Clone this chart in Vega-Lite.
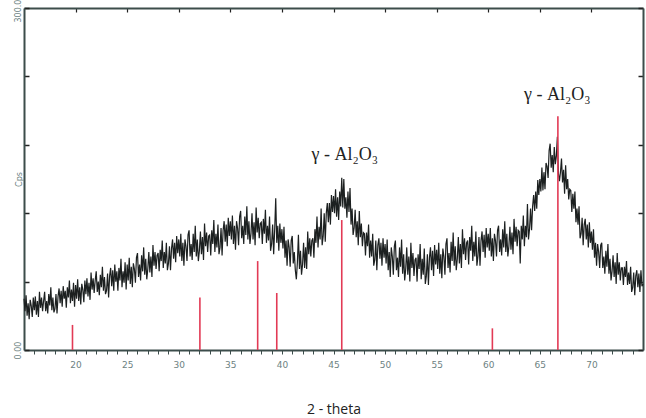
{
  "$schema": "https://vega.github.io/schema/vega-lite/v6.json",
  "width": 619,
  "height": 342,
  "autosize": "none",
  "padding": {"left": 24, "top": 8, "right": 3, "bottom": 68},
  "background": "white",
  "config": {"view": {"stroke": null}},
  "datasets": {
    "curve": [
{"t":15.0,"c":45},{"t":15.1,"c":34},{"t":15.2,"c":48},{"t":15.3,"c":30},{"t":15.4,"c":41},{"t":15.5,"c":27},{"t":15.6,"c":44},{"t":15.7,"c":39},{"t":15.8,"c":29},{"t":15.9,"c":46},
{"t":16.0,"c":35},{"t":16.1,"c":47},{"t":16.2,"c":31},{"t":16.3,"c":43},{"t":16.4,"c":29},{"t":16.5,"c":51},{"t":16.6,"c":37},{"t":16.7,"c":46},{"t":16.8,"c":34},{"t":16.9,"c":43},
{"t":17.0,"c":51},{"t":17.1,"c":34},{"t":17.2,"c":43},{"t":17.3,"c":32},{"t":17.4,"c":49},{"t":17.5,"c":39},{"t":17.6,"c":55},{"t":17.7,"c":35},{"t":17.8,"c":46},{"t":17.9,"c":33},
{"t":18.0,"c":36},{"t":18.1,"c":49},{"t":18.2,"c":32},{"t":18.3,"c":47},{"t":18.4,"c":54},{"t":18.5,"c":41},{"t":18.6,"c":52},{"t":18.7,"c":38},{"t":18.8,"c":56},{"t":18.9,"c":45},
{"t":19.0,"c":52},{"t":19.1,"c":37},{"t":19.2,"c":55},{"t":19.3,"c":46},{"t":19.4,"c":61},{"t":19.5,"c":41},{"t":19.6,"c":53},{"t":19.7,"c":43},{"t":19.8,"c":59},{"t":19.9,"c":38},
{"t":20.0,"c":57},{"t":20.1,"c":45},{"t":20.2,"c":62},{"t":20.3,"c":43},{"t":20.4,"c":55},{"t":20.5,"c":40},{"t":20.6,"c":58},{"t":20.7,"c":53},{"t":20.8,"c":42},{"t":20.9,"c":61},
{"t":21.0,"c":49},{"t":21.1,"c":63},{"t":21.2,"c":47},{"t":21.3,"c":59},{"t":21.4,"c":44},{"t":21.5,"c":68},{"t":21.6,"c":53},{"t":21.7,"c":63},{"t":21.8,"c":50},{"t":21.9,"c":61},
{"t":22.0,"c":69},{"t":22.1,"c":51},{"t":22.2,"c":60},{"t":22.3,"c":48},{"t":22.4,"c":66},{"t":22.5,"c":55},{"t":22.6,"c":73},{"t":22.7,"c":52},{"t":22.8,"c":64},{"t":22.9,"c":49},
{"t":23.0,"c":52},{"t":23.1,"c":67},{"t":23.2,"c":46},{"t":23.3,"c":65},{"t":23.4,"c":72},{"t":23.5,"c":56},{"t":23.6,"c":70},{"t":23.7,"c":52},{"t":23.8,"c":75},{"t":23.9,"c":60},
{"t":24.0,"c":69},{"t":24.1,"c":52},{"t":24.2,"c":72},{"t":24.3,"c":61},{"t":24.4,"c":80},{"t":24.5,"c":55},{"t":24.6,"c":69},{"t":24.7,"c":59},{"t":24.8,"c":77},{"t":24.9,"c":53},
{"t":25.0,"c":75},{"t":25.1,"c":61},{"t":25.2,"c":81},{"t":25.3,"c":58},{"t":25.4,"c":73},{"t":25.5,"c":55},{"t":25.6,"c":76},{"t":25.7,"c":71},{"t":25.8,"c":59},{"t":25.9,"c":81},
{"t":26.0,"c":85},{"t":26.1,"c":64},{"t":26.2,"c":75},{"t":26.3,"c":61},{"t":26.4,"c":83},{"t":26.5,"c":69},{"t":26.6,"c":90},{"t":26.7,"c":66},{"t":26.8,"c":80},{"t":26.9,"c":62},
{"t":27.0,"c":71},{"t":27.1,"c":86},{"t":27.2,"c":68},{"t":27.3,"c":82},{"t":27.4,"c":64},{"t":27.5,"c":92},{"t":27.6,"c":74},{"t":27.7,"c":86},{"t":27.8,"c":71},{"t":27.9,"c":83},
{"t":28.0,"c":85},{"t":28.1,"c":69},{"t":28.2,"c":88},{"t":28.3,"c":78},{"t":28.4,"c":96},{"t":28.5,"c":72},{"t":28.6,"c":86},{"t":28.7,"c":76},{"t":28.8,"c":94},{"t":28.9,"c":70},
{"t":29.0,"c":76},{"t":29.1,"c":91},{"t":29.2,"c":70},{"t":29.3,"c":89},{"t":29.4,"c":97},{"t":29.5,"c":80},{"t":29.6,"c":94},{"t":29.7,"c":77},{"t":29.8,"c":100},{"t":29.9,"c":85},
{"t":30.0,"c":97},{"t":30.1,"c":82},{"t":30.2,"c":102},{"t":30.3,"c":78},{"t":30.4,"c":94},{"t":30.5,"c":74},{"t":30.6,"c":97},{"t":30.7,"c":91},{"t":30.8,"c":78},{"t":30.9,"c":101},
{"t":31.0,"c":105},{"t":31.1,"c":82},{"t":31.2,"c":93},{"t":31.3,"c":79},{"t":31.4,"c":102},{"t":31.5,"c":86},{"t":31.6,"c":109},{"t":31.7,"c":82},{"t":31.8,"c":97},{"t":31.9,"c":78},
{"t":32.0,"c":87},{"t":32.1,"c":104},{"t":32.2,"c":84},{"t":32.3,"c":99},{"t":32.4,"c":79},{"t":32.5,"c":111},{"t":32.6,"c":91},{"t":32.7,"c":103},{"t":32.8,"c":86},{"t":32.9,"c":100},
{"t":33.0,"c":101},{"t":33.1,"c":83},{"t":33.2,"c":105},{"t":33.3,"c":93},{"t":33.4,"c":114},{"t":33.5,"c":86},{"t":33.6,"c":102},{"t":33.7,"c":90},{"t":33.8,"c":110},{"t":33.9,"c":84},
{"t":34.0,"c":90},{"t":34.1,"c":107},{"t":34.2,"c":83},{"t":34.3,"c":105},{"t":34.4,"c":113},{"t":34.5,"c":95},{"t":34.6,"c":110},{"t":34.7,"c":91},{"t":34.8,"c":116},{"t":34.9,"c":100},
{"t":35.0,"c":113},{"t":35.1,"c":97},{"t":35.2,"c":118},{"t":35.3,"c":93},{"t":35.4,"c":109},{"t":35.5,"c":88},{"t":35.6,"c":113},{"t":35.7,"c":107},{"t":35.8,"c":92},{"t":35.9,"c":117},
{"t":36.0,"c":122},{"t":36.1,"c":98},{"t":36.2,"c":109},{"t":36.3,"c":93},{"t":36.4,"c":117},{"t":36.5,"c":101},{"t":36.6,"c":126},{"t":36.7,"c":97},{"t":36.8,"c":113},{"t":36.9,"c":93},
{"t":37.0,"c":102},{"t":37.1,"c":120},{"t":37.2,"c":97},{"t":37.3,"c":112},{"t":37.4,"c":92},{"t":37.5,"c":125},{"t":37.6,"c":103},{"t":37.7,"c":116},{"t":37.8,"c":98},{"t":37.9,"c":111},
{"t":38.0,"c":112},{"t":38.1,"c":93},{"t":38.2,"c":115},{"t":38.3,"c":102},{"t":38.4,"c":123},{"t":38.5,"c":94},{"t":38.6,"c":109},{"t":38.7,"c":96},{"t":38.8,"c":117},{"t":38.9,"c":87},
{"t":39.0,"c":93},{"t":39.1,"c":110},{"t":39.2,"c":84},{"t":39.3,"c":106},{"t":39.4,"c":133},{"t":39.5,"c":94},{"t":39.6,"c":109},{"t":39.7,"c":87},{"t":39.8,"c":111},{"t":39.9,"c":94},
{"t":40.0,"c":106},{"t":40.1,"c":89},{"t":40.2,"c":108},{"t":40.3,"c":81},{"t":40.4,"c":96},{"t":40.5,"c":74},{"t":40.6,"c":97},{"t":40.7,"c":90},{"t":40.8,"c":73},{"t":40.9,"c":96},
{"t":41.0,"c":100},{"t":41.1,"c":76},{"t":41.2,"c":86},{"t":41.3,"c":70},{"t":41.4,"c":62},{"t":41.5,"c":77},{"t":41.6,"c":101},{"t":41.7,"c":71},{"t":41.8,"c":87},{"t":41.9,"c":66},
{"t":42.0,"c":75},{"t":42.1,"c":94},{"t":42.2,"c":72},{"t":42.3,"c":90},{"t":42.4,"c":71},{"t":42.5,"c":104},{"t":42.6,"c":84},{"t":42.7,"c":98},{"t":42.8,"c":82},{"t":42.9,"c":96},
{"t":43.0,"c":98},{"t":43.1,"c":81},{"t":43.2,"c":106},{"t":43.3,"c":94},{"t":43.4,"c":117},{"t":43.5,"c":90},{"t":43.6,"c":108},{"t":43.7,"c":97},{"t":43.8,"c":124},{"t":43.9,"c":92},
{"t":44.0,"c":100},{"t":44.1,"c":120},{"t":44.2,"c":95},{"t":44.3,"c":120},{"t":44.4,"c":129},{"t":44.5,"c":112},{"t":44.6,"c":129},{"t":44.7,"c":110},{"t":44.8,"c":136},{"t":44.9,"c":121},
{"t":45.0,"c":135},{"t":45.1,"c":120},{"t":45.2,"c":141},{"t":45.3,"c":117},{"t":45.4,"c":134},{"t":45.5,"c":114},{"t":45.6,"c":139},{"t":45.7,"c":126},{"t":45.8,"c":151},{"t":45.9,"c":125},
{"t":46.0,"c":150},{"t":46.1,"c":124},{"t":46.2,"c":134},{"t":46.3,"c":116},{"t":46.4,"c":139},{"t":46.5,"c":121},{"t":46.6,"c":142},{"t":46.7,"c":110},{"t":46.8,"c":124},{"t":46.9,"c":101},
{"t":47.0,"c":107},{"t":47.1,"c":123},{"t":47.2,"c":99},{"t":47.3,"c":113},{"t":47.4,"c":92},{"t":47.5,"c":122},{"t":47.6,"c":99},{"t":47.7,"c":111},{"t":47.8,"c":91},{"t":47.9,"c":103},
{"t":48.0,"c":102},{"t":48.1,"c":83},{"t":48.2,"c":103},{"t":48.3,"c":91},{"t":48.4,"c":110},{"t":48.5,"c":81},{"t":48.6,"c":96},{"t":48.7,"c":82},{"t":48.8,"c":102},{"t":48.9,"c":74},
{"t":49.0,"c":79},{"t":49.1,"c":96},{"t":49.2,"c":70},{"t":49.3,"c":92},{"t":49.4,"c":98},{"t":49.5,"c":80},{"t":49.6,"c":94},{"t":49.7,"c":74},{"t":49.8,"c":98},{"t":49.9,"c":81},
{"t":50.0,"c":93},{"t":50.1,"c":76},{"t":50.2,"c":97},{"t":50.3,"c":70},{"t":50.4,"c":86},{"t":50.5,"c":64},{"t":50.6,"c":90},{"t":50.7,"c":82},{"t":50.8,"c":66},{"t":50.9,"c":91},
{"t":51.0,"c":96},{"t":51.1,"c":70},{"t":51.2,"c":81},{"t":51.3,"c":64},{"t":51.4,"c":90},{"t":51.5,"c":73},{"t":51.6,"c":97},{"t":51.7,"c":67},{"t":51.8,"c":84},{"t":51.9,"c":61},
{"t":52.0,"c":71},{"t":52.1,"c":90},{"t":52.2,"c":66},{"t":52.3,"c":82},{"t":52.4,"c":60},{"t":52.5,"c":94},{"t":52.6,"c":72},{"t":52.7,"c":85},{"t":52.8,"c":65},{"t":52.9,"c":79},
{"t":53.0,"c":81},{"t":53.1,"c":60},{"t":53.2,"c":84},{"t":53.3,"c":71},{"t":53.4,"c":93},{"t":53.5,"c":62},{"t":53.6,"c":80},{"t":53.7,"c":66},{"t":53.8,"c":89},{"t":53.9,"c":58},
{"t":54.0,"c":65},{"t":54.1,"c":84},{"t":54.2,"c":57},{"t":54.3,"c":81},{"t":54.4,"c":90},{"t":54.5,"c":70},{"t":54.6,"c":87},{"t":54.7,"c":65},{"t":54.8,"c":92},{"t":54.9,"c":75},
{"t":55.0,"c":88},{"t":55.1,"c":71},{"t":55.2,"c":94},{"t":55.3,"c":67},{"t":55.4,"c":84},{"t":55.5,"c":63},{"t":55.6,"c":89},{"t":55.7,"c":82},{"t":55.8,"c":66},{"t":55.9,"c":93},
{"t":56.0,"c":98},{"t":56.1,"c":72},{"t":56.2,"c":85},{"t":56.3,"c":68},{"t":56.4,"c":95},{"t":56.5,"c":78},{"t":56.6,"c":103},{"t":56.7,"c":74},{"t":56.8,"c":91},{"t":56.9,"c":70},
{"t":57.0,"c":80},{"t":57.1,"c":99},{"t":57.2,"c":76},{"t":57.3,"c":93},{"t":57.4,"c":72},{"t":57.5,"c":106},{"t":57.6,"c":84},{"t":57.7,"c":98},{"t":57.8,"c":79},{"t":57.9,"c":94},
{"t":58.0,"c":96},{"t":58.1,"c":75},{"t":58.2,"c":99},{"t":58.3,"c":87},{"t":58.4,"c":109},{"t":58.5,"c":78},{"t":58.6,"c":95},{"t":58.7,"c":82},{"t":58.8,"c":104},{"t":58.9,"c":74},
{"t":59.0,"c":82},{"t":59.1,"c":99},{"t":59.2,"c":74},{"t":59.3,"c":96},{"t":59.4,"c":104},{"t":59.5,"c":86},{"t":59.6,"c":101},{"t":59.7,"c":81},{"t":59.8,"c":107},{"t":59.9,"c":90},
{"t":60.0,"c":102},{"t":60.1,"c":87},{"t":60.2,"c":107},{"t":60.3,"c":82},{"t":60.4,"c":98},{"t":60.5,"c":78},{"t":60.6,"c":102},{"t":60.7,"c":96},{"t":60.8,"c":82},{"t":60.9,"c":105},
{"t":61.0,"c":109},{"t":61.1,"c":86},{"t":61.2,"c":97},{"t":61.3,"c":83},{"t":61.4,"c":106},{"t":61.5,"c":90},{"t":61.6,"c":113},{"t":61.7,"c":86},{"t":61.8,"c":102},{"t":61.9,"c":82},
{"t":62.0,"c":91},{"t":62.1,"c":108},{"t":62.2,"c":88},{"t":62.3,"c":103},{"t":62.4,"c":84},{"t":62.5,"c":115},{"t":62.6,"c":95},{"t":62.7,"c":108},{"t":62.8,"c":91},{"t":62.9,"c":105},
{"t":63.0,"c":104},{"t":63.1,"c":76},{"t":63.2,"c":109},{"t":63.3,"c":97},{"t":63.4,"c":118},{"t":63.5,"c":91},{"t":63.6,"c":109},{"t":63.7,"c":99},{"t":63.8,"c":128},{"t":63.9,"c":97},
{"t":64.0,"c":106},{"t":64.1,"c":124},{"t":64.2,"c":105},{"t":64.3,"c":126},{"t":64.4,"c":136},{"t":64.5,"c":122},{"t":64.6,"c":139},{"t":64.7,"c":124},{"t":64.8,"c":149},{"t":64.9,"c":136},
{"t":65.0,"c":150},{"t":65.1,"c":139},{"t":65.2,"c":160},{"t":65.3,"c":140},{"t":65.4,"c":156},{"t":65.5,"c":141},{"t":65.6,"c":164},{"t":65.7,"c":161},{"t":65.8,"c":151},{"t":65.9,"c":175},
{"t":66.0,"c":181},{"t":66.1,"c":160},{"t":66.2,"c":171},{"t":66.3,"c":156},{"t":66.4,"c":178},{"t":66.5,"c":163},{"t":66.6,"c":170},{"t":66.7,"c":187},{"t":66.8,"c":155},{"t":66.9,"c":148},
{"t":67.0,"c":156},{"t":67.1,"c":168},{"t":67.2,"c":147},{"t":67.3,"c":158},{"t":67.4,"c":137},{"t":67.5,"c":162},{"t":67.6,"c":141},{"t":67.7,"c":150},{"t":67.8,"c":132},{"t":67.9,"c":141},
{"t":68.0,"c":140},{"t":68.1,"c":121},{"t":68.2,"c":137},{"t":68.3,"c":124},{"t":68.4,"c":139},{"t":68.5,"c":112},{"t":68.6,"c":124},{"t":68.7,"c":110},{"t":68.8,"c":126},{"t":68.9,"c":98},
{"t":69.0,"c":102},{"t":69.1,"c":116},{"t":69.2,"c":92},{"t":69.3,"c":110},{"t":69.4,"c":115},{"t":69.5,"c":97},{"t":69.6,"c":110},{"t":69.7,"c":90},{"t":69.8,"c":112},{"t":69.9,"c":94},
{"t":70.0,"c":104},{"t":70.1,"c":88},{"t":70.2,"c":106},{"t":70.3,"c":81},{"t":70.4,"c":94},{"t":70.5,"c":74},{"t":70.6,"c":93},{"t":70.7,"c":86},{"t":70.8,"c":72},{"t":70.9,"c":92},
{"t":71.0,"c":94},{"t":71.1,"c":72},{"t":71.2,"c":82},{"t":71.3,"c":67},{"t":71.4,"c":87},{"t":71.5,"c":73},{"t":71.6,"c":93},{"t":71.7,"c":67},{"t":71.8,"c":80},{"t":71.9,"c":61},
{"t":72.0,"c":69},{"t":72.1,"c":83},{"t":72.2,"c":64},{"t":72.3,"c":77},{"t":72.4,"c":58},{"t":72.5,"c":85},{"t":72.6,"c":66},{"t":72.7,"c":77},{"t":72.8,"c":61},{"t":72.9,"c":72},
{"t":73.0,"c":72},{"t":73.1,"c":57},{"t":73.2,"c":73},{"t":73.3,"c":64},{"t":73.4,"c":78},{"t":73.5,"c":57},{"t":73.6,"c":68},{"t":73.7,"c":58},{"t":73.8,"c":73},{"t":73.9,"c":51},
{"t":74.0,"c":55},{"t":74.1,"c":68},{"t":74.2,"c":48},{"t":74.3,"c":65},{"t":74.4,"c":70},{"t":74.5,"c":55},{"t":74.6,"c":67},{"t":74.7,"c":51},{"t":74.8,"c":70},{"t":74.9,"c":56},
{"t":75.0,"c":58}
    ],
    "refs": [
      {"t":19.7,"h":22},{"t":32.05,"h":46},{"t":37.65,"h":78},{"t":39.5,"h":50},
      {"t":45.8,"h":114},{"t":60.4,"h":19},{"t":66.75,"h":205}
    ],
    "labels": [
      {"t":46.1,"v":171,"label":"γ - Al₂O₃"},
      {"t":66.7,"v":224,"label":"γ - Al₂O₃"}
    ]
  },
  "layer": [
    {
      "data": {"name": "curve"},
      "mark": {"type": "line", "color": "#1c2020", "strokeWidth": 1.2},
      "encoding": {
        "x": {
          "field": "t", "type": "quantitative",
          "scale": {"domain": [15, 75], "nice": false},
          "axis": {
            "title": "2 - theta",
            "titleFont": "Open Sans", "titleFontSize": 14, "titleFontWeight": "normal", "titleColor": "#222",
            "titlePadding": 33,
            "values": [16,17,18,19,20,21,22,23,24,25,26,27,28,29,30,31,32,33,34,35,36,37,38,39,40,41,42,43,44,45,46,47,48,49,50,51,52,53,54,55,56,57,58,59,60,61,62,63,64,65,66,67,68,69,70,71,72,73,74],
            "labelExpr": "datum.value % 5 === 0 ? datum.label : ''",
            "labelFont": "DejaVu Sans", "labelFontSize": 9, "labelColor": "#6d8282",
            "labelPadding": 6,
            "domainColor": "#3c4d4b", "domainWidth": 2,
            "tickColor": "#3c4d4b",
            "tickSize": 4,
            "grid": false
          }
        },
        "y": {
          "field": "c", "type": "quantitative",
          "scale": {"domain": [0, 300], "nice": false},
          "axis": {
            "title": "Cps",
            "titleFont": "DejaVu Sans", "titleFontSize": 8, "titleFontWeight": "normal", "titleColor": "#6d8282",
            "titlePadding": -9,
            "values": [0, 60, 120, 180, 240, 300],
            "labelExpr": "datum.value === 0 ? '0.00' : (datum.value === 300 ? '300.00' : '')",
            "labelAngle": 270,
            "labelBaseline": "bottom",
            "labelFont": "DejaVu Sans", "labelFontSize": 8, "labelColor": "#6d8282",
            "labelPadding": 7,
            "domainColor": "#3c4d4b", "domainWidth": 2,
            "tickColor": "#222", "tickSize": -5, "tickWidth": 1.5,
            "grid": false,
            "encode": {
              "labels": {
                "update": {
                  "align": {"signal": "datum.value === 0 ? 'left' : 'right'"},
                  "dx": {"signal": "datum.value === 300 ? -5 : 0"}
                }
              }
            }
          }
        }
      }
    },
    {
      "data": {"name": "refs"},
      "mark": {"type": "rule", "color": "#e23a55", "strokeWidth": 1.6},
      "encoding": {
        "x": {
          "field": "t", "type": "quantitative",
          "axis": {
            "orient": "top", "title": null, "labels": false,
            "values": [20, 25, 30, 35, 40, 45, 50, 55, 60, 65, 70],
            "domainColor": "#3c4d4b", "domainWidth": 2,
            "tickColor": "#222", "tickSize": -4, "tickWidth": 1.2, "grid": false
          }
        },
        "y": {
          "field": "h", "type": "quantitative",
          "axis": {
            "orient": "right", "title": null, "labels": false,
            "values": [0, 60, 120, 180, 240, 300],
            "domainColor": "#3c4d4b", "domainWidth": 2,
            "tickColor": "#222", "tickSize": -5, "tickWidth": 1.5, "grid": false
          }
        },
        "y2": {"datum": 0}
      }
    },
    {
      "data": {"name": "labels"},
      "mark": {"type": "text", "font": "Liberation Serif", "fontSize": 18, "color": "#222", "baseline": "middle", "align": "center"},
      "encoding": {
        "x": {"field": "t", "type": "quantitative", "axis": null},
        "y": {"field": "v", "type": "quantitative", "axis": null},
        "text": {"field": "label"}
      }
    }
  ],
  "resolve": {"axis": {"x": "independent", "y": "independent"}}
}
